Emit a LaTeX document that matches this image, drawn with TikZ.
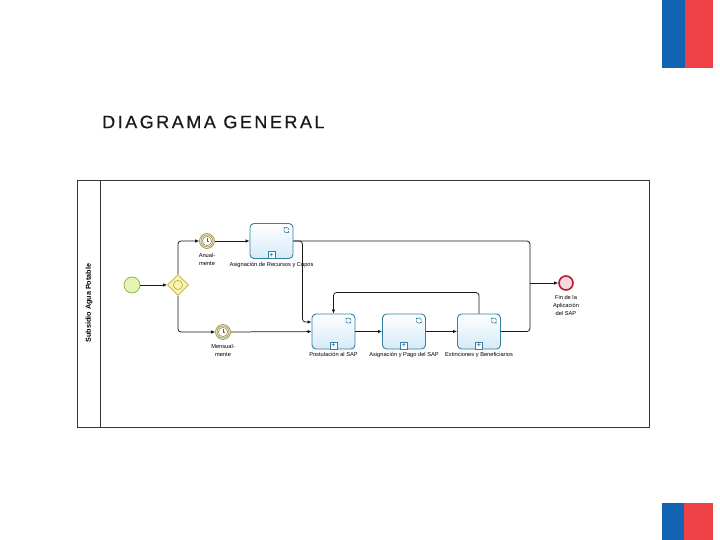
\documentclass[tikz,border=0pt]{standalone}
\usepackage{fontspec}
\setmainfont{Liberation Sans}
\newfontfamily\titlefont[LetterSpace=14,FakeBold=0.6]{Liberation Sans}
\usepackage{xcolor}
\usepackage{tikz}
\usetikzlibrary{arrows.meta,positioning,calc,shapes.geometric}

\definecolor{flagblue}{RGB}{18,100,178}
\definecolor{flagred}{RGB}{238,66,70}
\definecolor{taskline}{RGB}{52,128,160}
\definecolor{taskfill}{RGB}{212,235,248}
\definecolor{startline}{RGB}{140,176,60}
\definecolor{startfill}{RGB}{228,244,180}
\definecolor{gwline}{RGB}{190,178,70}
\definecolor{gwfill}{RGB}{250,244,176}
\definecolor{timerline}{RGB}{150,138,80}
\definecolor{timerfill}{RGB}{244,238,202}
\definecolor{endline}{RGB}{176,30,56}
\definecolor{endfill}{RGB}{250,214,222}

\tikzset{
  task/.style={rectangle, rounded corners=4pt, draw=taskline, line width=0.9pt,
    top color=white, bottom color=taskfill, minimum width=43pt, minimum height=35pt, inner sep=0pt},
  startev/.style={circle, draw=startline, fill=startfill, line width=0.7pt, minimum size=16pt, inner sep=0pt},
  gateway/.style={diamond, aspect=1, draw=gwline, fill=gwfill, line width=0.7pt, minimum size=21pt, inner sep=0pt,
    path picture={\draw[gwline, line width=0.7pt] (path picture bounding box.center) circle (4.6pt);}},
  timer/.style={circle, draw=timerline, fill=timerfill, line width=0.6pt, minimum size=15pt, inner sep=0pt,
    path picture={
      \draw[timerline, line width=0.5pt] (path picture bounding box.center) circle (6pt);
      \draw[timerline, fill=white, line width=0.5pt] (path picture bounding box.center) circle (4.6pt);
      \draw[timerline!70!black, line width=0.5pt] ($(path picture bounding box.center)+(0,3.2pt)$)
        -- (path picture bounding box.center) -- ++(2.4pt,0);}},
  endev/.style={circle, draw=endline, fill=endfill, line width=1.6pt, minimum size=14pt, inner sep=0pt},
  lbl/.style={font=\fontsize{5.7}{8}\selectfont, align=center, inner sep=1pt},
  flow/.style={draw=black!90, line width=0.75pt, rounded corners=3pt, -{Latex[length=4pt,width=3.5pt]}},
  line/.style={draw=black!90, line width=0.75pt, rounded corners=3pt}
}

\begin{document}
\begin{tikzpicture}[x=1pt,y=-1pt]
\useasboundingbox (0,0) rectangle (720,540);
% flags
\fill[flagblue] (662,0) rectangle (685,68);
\fill[flagred] (685,0) rectangle (713,68);
\fill[flagblue] (662,503) rectangle (684,540);
\fill[flagred] (684,503) rectangle (713,540);
\node[anchor=west, font=\titlefont\fontsize{18}{18}\selectfont, text=black!90, inner sep=0pt] (title) at (102,122) {DIAGRAMA GENERAL};

% pool and lane
\draw[black!80, line width=0.9pt] (77,180) rectangle (649,427);
\draw[black!80, line width=0.9pt] (100,180) -- (100,427);
\node[rotate=90, font=\fontsize{7.2}{8}\selectfont\bfseries] (lane) at (89,303) {Subsidio Agua Potable};

% events and gateway
\node[startev] (start) at (132,285) {};
\node[gateway] (gw) at (178,285) {};
\node[timer] (tAnual) at (207,241) {};
\node[lbl, below=3.5pt of tAnual] (tAnualL) {Anual-\\mente};
\node[timer] (tMensual) at (223,332) {};
\node[lbl, below=3.5pt of tMensual] (tMensualL) {Mensual-\\mente};
\node[endev] (fin) at (566,283) {};
\node[lbl, below=3pt of fin] (finL) {Fin de la\\Aplicación\\del SAP};
\coordinate (mrg) at (530,283);

% tasks
\node[task] (asig) at (271.5,241) {};
\node[task] (post) at (333.5,331.5) {};
\node[task] (pago) at (404,331.5) {};
\node[task] (ext) at (479,331.5) {};
\node[lbl, below=2pt of asig] (asigL) {Asignación de Recursos y Cupos};
\node[lbl, below=2pt of post] (postL) {Postulación al SAP};
\node[lbl, below=2pt of pago] (pagoL) {Asignación y Pago del SAP};
\node[lbl, below=2pt of ext] (extL) {Extinciones y Beneficiarios};
\foreach \t in {asig,post,pago,ext}{
  \draw[taskline, line width=0.6pt, -{Latex[length=1.6pt,width=2pt]}] ($(\t.north east)+(-4.5,7)$) arc (0:160:2.6pt);
  \draw[taskline, line width=0.6pt, -{Latex[length=1.6pt,width=2pt]}] ($(\t.north east)+(-9.7,7)$) arc (180:340:2.6pt);
  \node[draw=taskline, fill=white, line width=0.6pt, minimum size=7pt, inner sep=0pt, anchor=south,
    font=\fontsize{7}{7}\selectfont\bfseries, text=taskline] (\t+) at (\t.south) {+};
}

% connectors
\draw[flow] (start) -- (gw);
\draw[flow] (gw.north) |- (tAnual);
\draw[flow] (gw.south) |- (tMensual);
\draw[flow] (tAnual) -- (asig);
\draw[flow] (tMensual) -- (post);
\draw[flow] (asig.east) -- ++(9,0) |- ($(post.west)+(0,-9.5)$);
\draw[line] (asig.east) -| (mrg);
\draw[line] (ext.east) -| (mrg);
\draw[flow] (mrg) -- (fin);
\draw[flow] (post) -- (pago);
\draw[flow] (pago) -- (ext);
\draw[flow] (ext.north) -- ++(0,-21) -| (post.north);
\end{tikzpicture}
\end{document}
